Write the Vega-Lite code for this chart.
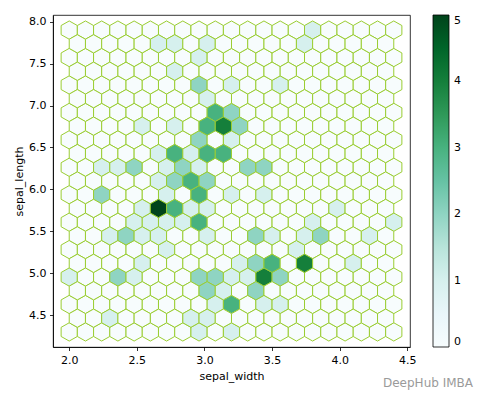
{
"$schema": "https://vega.github.io/schema/vega-lite/v6.json",
"width": 357, "height": 332,
"autosize": "none",
"padding": {"left": 53, "top": 15, "right": 78, "bottom": 49},
"background": "white",
"config": {
  "view": {"stroke": "#000", "strokeWidth": 0.8},
  "font": "DejaVu Sans",
  "axis": {"grid": false, "domainColor": "#000", "domainWidth": 0.8, "tickColor": "#000", "tickWidth": 0.8, "tickSize": 3.5, "labelPadding": 3.5, "labelFontSize": 11, "labelColor": "#000", "labelFont": "DejaVu Sans", "titleFont": "DejaVu Sans", "titleFontSize": 11, "titleFontWeight": "normal", "titleColor": "#000"},
  "legend": {"gradientVerticalMaxLength": 400}
},
"datasets": {"hex": [
{"x":2,"y":4.3,"c":0},{"x":2.12,"y":4.3,"c":0},{"x":2.24,"y":4.3,"c":0},{"x":2.36,"y":4.3,"c":0},{"x":2.48,"y":4.3,"c":0},{"x":2.6,"y":4.3,"c":0},{"x":2.72,"y":4.3,"c":0},{"x":2.84,"y":4.3,"c":0},{"x":2.96,"y":4.3,"c":1},{"x":3.08,"y":4.3,"c":0},{"x":3.2,"y":4.3,"c":1},{"x":3.32,"y":4.3,"c":0},{"x":3.44,"y":4.3,"c":0},{"x":3.56,"y":4.3,"c":0},{"x":3.68,"y":4.3,"c":0},{"x":3.8,"y":4.3,"c":0},{"x":3.92,"y":4.3,"c":0},{"x":4.04,"y":4.3,"c":0},{"x":4.16,"y":4.3,"c":0},{"x":4.28,"y":4.3,"c":0},{"x":4.4,"y":4.3,"c":0},
{"x":2,"y":4.6273,"c":0},{"x":2.12,"y":4.6273,"c":0},{"x":2.24,"y":4.6273,"c":0},{"x":2.36,"y":4.6273,"c":0},{"x":2.48,"y":4.6273,"c":0},{"x":2.6,"y":4.6273,"c":0},{"x":2.72,"y":4.6273,"c":0},{"x":2.84,"y":4.6273,"c":0},{"x":2.96,"y":4.6273,"c":0},{"x":3.08,"y":4.6273,"c":1},{"x":3.2,"y":4.6273,"c":3},{"x":3.32,"y":4.6273,"c":0},{"x":3.44,"y":4.6273,"c":1},{"x":3.56,"y":4.6273,"c":1},{"x":3.68,"y":4.6273,"c":0},{"x":3.8,"y":4.6273,"c":0},{"x":3.92,"y":4.6273,"c":0},{"x":4.04,"y":4.6273,"c":0},{"x":4.16,"y":4.6273,"c":0},{"x":4.28,"y":4.6273,"c":0},{"x":4.4,"y":4.6273,"c":0},
{"x":2,"y":4.9545,"c":1},{"x":2.12,"y":4.9545,"c":0},{"x":2.24,"y":4.9545,"c":0},{"x":2.36,"y":4.9545,"c":2},{"x":2.48,"y":4.9545,"c":1},{"x":2.6,"y":4.9545,"c":0},{"x":2.72,"y":4.9545,"c":0},{"x":2.84,"y":4.9545,"c":0},{"x":2.96,"y":4.9545,"c":2},{"x":3.08,"y":4.9545,"c":2},{"x":3.2,"y":4.9545,"c":1},{"x":3.32,"y":4.9545,"c":1},{"x":3.44,"y":4.9545,"c":4},{"x":3.56,"y":4.9545,"c":2},{"x":3.68,"y":4.9545,"c":0},{"x":3.8,"y":4.9545,"c":0},{"x":3.92,"y":4.9545,"c":0},{"x":4.04,"y":4.9545,"c":0},{"x":4.16,"y":4.9545,"c":0},{"x":4.28,"y":4.9545,"c":0},{"x":4.4,"y":4.9545,"c":0},
{"x":2,"y":5.2818,"c":0},{"x":2.12,"y":5.2818,"c":0},{"x":2.24,"y":5.2818,"c":0},{"x":2.36,"y":5.2818,"c":0},{"x":2.48,"y":5.2818,"c":0},{"x":2.6,"y":5.2818,"c":0},{"x":2.72,"y":5.2818,"c":1},{"x":2.84,"y":5.2818,"c":0},{"x":2.96,"y":5.2818,"c":0},{"x":3.08,"y":5.2818,"c":0},{"x":3.2,"y":5.2818,"c":0},{"x":3.32,"y":5.2818,"c":0},{"x":3.44,"y":5.2818,"c":0},{"x":3.56,"y":5.2818,"c":0},{"x":3.68,"y":5.2818,"c":1},{"x":3.8,"y":5.2818,"c":0},{"x":3.92,"y":5.2818,"c":0},{"x":4.04,"y":5.2818,"c":0},{"x":4.16,"y":5.2818,"c":0},{"x":4.28,"y":5.2818,"c":0},{"x":4.4,"y":5.2818,"c":0},
{"x":2,"y":5.6091,"c":0},{"x":2.12,"y":5.6091,"c":0},{"x":2.24,"y":5.6091,"c":0},{"x":2.36,"y":5.6091,"c":0},{"x":2.48,"y":5.6091,"c":1},{"x":2.6,"y":5.6091,"c":1},{"x":2.72,"y":5.6091,"c":1},{"x":2.84,"y":5.6091,"c":1},{"x":2.96,"y":5.6091,"c":3},{"x":3.08,"y":5.6091,"c":0},{"x":3.2,"y":5.6091,"c":0},{"x":3.32,"y":5.6091,"c":0},{"x":3.44,"y":5.6091,"c":0},{"x":3.56,"y":5.6091,"c":0},{"x":3.68,"y":5.6091,"c":0},{"x":3.8,"y":5.6091,"c":1},{"x":3.92,"y":5.6091,"c":0},{"x":4.04,"y":5.6091,"c":0},{"x":4.16,"y":5.6091,"c":0},{"x":4.28,"y":5.6091,"c":0},{"x":4.4,"y":5.6091,"c":1},
{"x":2,"y":5.9364,"c":0},{"x":2.12,"y":5.9364,"c":0},{"x":2.24,"y":5.9364,"c":2},{"x":2.36,"y":5.9364,"c":0},{"x":2.48,"y":5.9364,"c":0},{"x":2.6,"y":5.9364,"c":0},{"x":2.72,"y":5.9364,"c":1},{"x":2.84,"y":5.9364,"c":0},{"x":2.96,"y":5.9364,"c":3},{"x":3.08,"y":5.9364,"c":0},{"x":3.2,"y":5.9364,"c":1},{"x":3.32,"y":5.9364,"c":0},{"x":3.44,"y":5.9364,"c":1},{"x":3.56,"y":5.9364,"c":0},{"x":3.68,"y":5.9364,"c":0},{"x":3.8,"y":5.9364,"c":0},{"x":3.92,"y":5.9364,"c":0},{"x":4.04,"y":5.9364,"c":0},{"x":4.16,"y":5.9364,"c":0},{"x":4.28,"y":5.9364,"c":0},{"x":4.4,"y":5.9364,"c":0},
{"x":2,"y":6.2636,"c":0},{"x":2.12,"y":6.2636,"c":0},{"x":2.24,"y":6.2636,"c":1},{"x":2.36,"y":6.2636,"c":1},{"x":2.48,"y":6.2636,"c":2},{"x":2.6,"y":6.2636,"c":0},{"x":2.72,"y":6.2636,"c":1},{"x":2.84,"y":6.2636,"c":2},{"x":2.96,"y":6.2636,"c":1},{"x":3.08,"y":6.2636,"c":0},{"x":3.2,"y":6.2636,"c":0},{"x":3.32,"y":6.2636,"c":2},{"x":3.44,"y":6.2636,"c":2},{"x":3.56,"y":6.2636,"c":0},{"x":3.68,"y":6.2636,"c":0},{"x":3.8,"y":6.2636,"c":0},{"x":3.92,"y":6.2636,"c":0},{"x":4.04,"y":6.2636,"c":0},{"x":4.16,"y":6.2636,"c":0},{"x":4.28,"y":6.2636,"c":0},{"x":4.4,"y":6.2636,"c":0},
{"x":2,"y":6.5909,"c":0},{"x":2.12,"y":6.5909,"c":0},{"x":2.24,"y":6.5909,"c":0},{"x":2.36,"y":6.5909,"c":0},{"x":2.48,"y":6.5909,"c":0},{"x":2.6,"y":6.5909,"c":0},{"x":2.72,"y":6.5909,"c":0},{"x":2.84,"y":6.5909,"c":0},{"x":2.96,"y":6.5909,"c":2},{"x":3.08,"y":6.5909,"c":0},{"x":3.2,"y":6.5909,"c":1},{"x":3.32,"y":6.5909,"c":0},{"x":3.44,"y":6.5909,"c":0},{"x":3.56,"y":6.5909,"c":0},{"x":3.68,"y":6.5909,"c":0},{"x":3.8,"y":6.5909,"c":0},{"x":3.92,"y":6.5909,"c":0},{"x":4.04,"y":6.5909,"c":0},{"x":4.16,"y":6.5909,"c":0},{"x":4.28,"y":6.5909,"c":0},{"x":4.4,"y":6.5909,"c":0},
{"x":2,"y":6.9182,"c":0},{"x":2.12,"y":6.9182,"c":0},{"x":2.24,"y":6.9182,"c":0},{"x":2.36,"y":6.9182,"c":0},{"x":2.48,"y":6.9182,"c":0},{"x":2.6,"y":6.9182,"c":0},{"x":2.72,"y":6.9182,"c":0},{"x":2.84,"y":6.9182,"c":0},{"x":2.96,"y":6.9182,"c":0},{"x":3.08,"y":6.9182,"c":3},{"x":3.2,"y":6.9182,"c":2},{"x":3.32,"y":6.9182,"c":0},{"x":3.44,"y":6.9182,"c":0},{"x":3.56,"y":6.9182,"c":0},{"x":3.68,"y":6.9182,"c":0},{"x":3.8,"y":6.9182,"c":0},{"x":3.92,"y":6.9182,"c":0},{"x":4.04,"y":6.9182,"c":0},{"x":4.16,"y":6.9182,"c":0},{"x":4.28,"y":6.9182,"c":0},{"x":4.4,"y":6.9182,"c":0},
{"x":2,"y":7.2455,"c":0},{"x":2.12,"y":7.2455,"c":0},{"x":2.24,"y":7.2455,"c":0},{"x":2.36,"y":7.2455,"c":0},{"x":2.48,"y":7.2455,"c":0},{"x":2.6,"y":7.2455,"c":0},{"x":2.72,"y":7.2455,"c":0},{"x":2.84,"y":7.2455,"c":0},{"x":2.96,"y":7.2455,"c":2},{"x":3.08,"y":7.2455,"c":0},{"x":3.2,"y":7.2455,"c":1},{"x":3.32,"y":7.2455,"c":0},{"x":3.44,"y":7.2455,"c":0},{"x":3.56,"y":7.2455,"c":1},{"x":3.68,"y":7.2455,"c":0},{"x":3.8,"y":7.2455,"c":0},{"x":3.92,"y":7.2455,"c":0},{"x":4.04,"y":7.2455,"c":0},{"x":4.16,"y":7.2455,"c":0},{"x":4.28,"y":7.2455,"c":0},{"x":4.4,"y":7.2455,"c":0},
{"x":2,"y":7.5727,"c":0},{"x":2.12,"y":7.5727,"c":0},{"x":2.24,"y":7.5727,"c":0},{"x":2.36,"y":7.5727,"c":0},{"x":2.48,"y":7.5727,"c":0},{"x":2.6,"y":7.5727,"c":0},{"x":2.72,"y":7.5727,"c":0},{"x":2.84,"y":7.5727,"c":0},{"x":2.96,"y":7.5727,"c":1},{"x":3.08,"y":7.5727,"c":0},{"x":3.2,"y":7.5727,"c":0},{"x":3.32,"y":7.5727,"c":0},{"x":3.44,"y":7.5727,"c":0},{"x":3.56,"y":7.5727,"c":0},{"x":3.68,"y":7.5727,"c":0},{"x":3.8,"y":7.5727,"c":0},{"x":3.92,"y":7.5727,"c":0},{"x":4.04,"y":7.5727,"c":0},{"x":4.16,"y":7.5727,"c":0},{"x":4.28,"y":7.5727,"c":0},{"x":4.4,"y":7.5727,"c":0},
{"x":2,"y":7.9,"c":0},{"x":2.12,"y":7.9,"c":0},{"x":2.24,"y":7.9,"c":0},{"x":2.36,"y":7.9,"c":0},{"x":2.48,"y":7.9,"c":0},{"x":2.6,"y":7.9,"c":0},{"x":2.72,"y":7.9,"c":0},{"x":2.84,"y":7.9,"c":0},{"x":2.96,"y":7.9,"c":0},{"x":3.08,"y":7.9,"c":0},{"x":3.2,"y":7.9,"c":0},{"x":3.32,"y":7.9,"c":0},{"x":3.44,"y":7.9,"c":0},{"x":3.56,"y":7.9,"c":0},{"x":3.68,"y":7.9,"c":0},{"x":3.8,"y":7.9,"c":1},{"x":3.92,"y":7.9,"c":0},{"x":4.04,"y":7.9,"c":0},{"x":4.16,"y":7.9,"c":0},{"x":4.28,"y":7.9,"c":0},{"x":4.4,"y":7.9,"c":0},
{"x":2.06,"y":4.4636,"c":0},{"x":2.18,"y":4.4636,"c":0},{"x":2.3,"y":4.4636,"c":1},{"x":2.42,"y":4.4636,"c":0},{"x":2.54,"y":4.4636,"c":0},{"x":2.66,"y":4.4636,"c":0},{"x":2.78,"y":4.4636,"c":0},{"x":2.9,"y":4.4636,"c":1},{"x":3.02,"y":4.4636,"c":1},{"x":3.14,"y":4.4636,"c":0},{"x":3.26,"y":4.4636,"c":0},{"x":3.38,"y":4.4636,"c":0},{"x":3.5,"y":4.4636,"c":0},{"x":3.62,"y":4.4636,"c":0},{"x":3.74,"y":4.4636,"c":0},{"x":3.86,"y":4.4636,"c":0},{"x":3.98,"y":4.4636,"c":0},{"x":4.1,"y":4.4636,"c":0},{"x":4.22,"y":4.4636,"c":0},{"x":4.34,"y":4.4636,"c":0},
{"x":2.06,"y":4.7909,"c":0},{"x":2.18,"y":4.7909,"c":0},{"x":2.3,"y":4.7909,"c":0},{"x":2.42,"y":4.7909,"c":0},{"x":2.54,"y":4.7909,"c":0},{"x":2.66,"y":4.7909,"c":0},{"x":2.78,"y":4.7909,"c":0},{"x":2.9,"y":4.7909,"c":0},{"x":3.02,"y":4.7909,"c":2},{"x":3.14,"y":4.7909,"c":1},{"x":3.26,"y":4.7909,"c":0},{"x":3.38,"y":4.7909,"c":2},{"x":3.5,"y":4.7909,"c":0},{"x":3.62,"y":4.7909,"c":0},{"x":3.74,"y":4.7909,"c":0},{"x":3.86,"y":4.7909,"c":0},{"x":3.98,"y":4.7909,"c":0},{"x":4.1,"y":4.7909,"c":0},{"x":4.22,"y":4.7909,"c":0},{"x":4.34,"y":4.7909,"c":0},
{"x":2.06,"y":5.1182,"c":0},{"x":2.18,"y":5.1182,"c":0},{"x":2.3,"y":5.1182,"c":0},{"x":2.42,"y":5.1182,"c":0},{"x":2.54,"y":5.1182,"c":1},{"x":2.66,"y":5.1182,"c":0},{"x":2.78,"y":5.1182,"c":0},{"x":2.9,"y":5.1182,"c":0},{"x":3.02,"y":5.1182,"c":0},{"x":3.14,"y":5.1182,"c":0},{"x":3.26,"y":5.1182,"c":1},{"x":3.38,"y":5.1182,"c":2},{"x":3.5,"y":5.1182,"c":3},{"x":3.62,"y":5.1182,"c":0},{"x":3.74,"y":5.1182,"c":4},{"x":3.86,"y":5.1182,"c":0},{"x":3.98,"y":5.1182,"c":0},{"x":4.1,"y":5.1182,"c":1},{"x":4.22,"y":5.1182,"c":0},{"x":4.34,"y":5.1182,"c":0},
{"x":2.06,"y":5.4455,"c":0},{"x":2.18,"y":5.4455,"c":0},{"x":2.3,"y":5.4455,"c":1},{"x":2.42,"y":5.4455,"c":2},{"x":2.54,"y":5.4455,"c":1},{"x":2.66,"y":5.4455,"c":1},{"x":2.78,"y":5.4455,"c":0},{"x":2.9,"y":5.4455,"c":0},{"x":3.02,"y":5.4455,"c":1},{"x":3.14,"y":5.4455,"c":0},{"x":3.26,"y":5.4455,"c":0},{"x":3.38,"y":5.4455,"c":2},{"x":3.5,"y":5.4455,"c":1},{"x":3.62,"y":5.4455,"c":0},{"x":3.74,"y":5.4455,"c":1},{"x":3.86,"y":5.4455,"c":2},{"x":3.98,"y":5.4455,"c":0},{"x":4.1,"y":5.4455,"c":0},{"x":4.22,"y":5.4455,"c":1},{"x":4.34,"y":5.4455,"c":0},
{"x":2.06,"y":5.7727,"c":0},{"x":2.18,"y":5.7727,"c":0},{"x":2.3,"y":5.7727,"c":0},{"x":2.42,"y":5.7727,"c":0},{"x":2.54,"y":5.7727,"c":1},{"x":2.66,"y":5.7727,"c":5},{"x":2.78,"y":5.7727,"c":3},{"x":2.9,"y":5.7727,"c":1},{"x":3.02,"y":5.7727,"c":1},{"x":3.14,"y":5.7727,"c":0},{"x":3.26,"y":5.7727,"c":0},{"x":3.38,"y":5.7727,"c":0},{"x":3.5,"y":5.7727,"c":0},{"x":3.62,"y":5.7727,"c":0},{"x":3.74,"y":5.7727,"c":0},{"x":3.86,"y":5.7727,"c":0},{"x":3.98,"y":5.7727,"c":1},{"x":4.1,"y":5.7727,"c":0},{"x":4.22,"y":5.7727,"c":0},{"x":4.34,"y":5.7727,"c":0},
{"x":2.06,"y":6.1,"c":0},{"x":2.18,"y":6.1,"c":0},{"x":2.3,"y":6.1,"c":0},{"x":2.42,"y":6.1,"c":0},{"x":2.54,"y":6.1,"c":0},{"x":2.66,"y":6.1,"c":1},{"x":2.78,"y":6.1,"c":2},{"x":2.9,"y":6.1,"c":3},{"x":3.02,"y":6.1,"c":2},{"x":3.14,"y":6.1,"c":0},{"x":3.26,"y":6.1,"c":0},{"x":3.38,"y":6.1,"c":0},{"x":3.5,"y":6.1,"c":0},{"x":3.62,"y":6.1,"c":0},{"x":3.74,"y":6.1,"c":0},{"x":3.86,"y":6.1,"c":0},{"x":3.98,"y":6.1,"c":0},{"x":4.1,"y":6.1,"c":0},{"x":4.22,"y":6.1,"c":0},{"x":4.34,"y":6.1,"c":0},
{"x":2.06,"y":6.4273,"c":0},{"x":2.18,"y":6.4273,"c":0},{"x":2.3,"y":6.4273,"c":0},{"x":2.42,"y":6.4273,"c":0},{"x":2.54,"y":6.4273,"c":0},{"x":2.66,"y":6.4273,"c":1},{"x":2.78,"y":6.4273,"c":3},{"x":2.9,"y":6.4273,"c":1},{"x":3.02,"y":6.4273,"c":3},{"x":3.14,"y":6.4273,"c":3},{"x":3.26,"y":6.4273,"c":0},{"x":3.38,"y":6.4273,"c":0},{"x":3.5,"y":6.4273,"c":0},{"x":3.62,"y":6.4273,"c":0},{"x":3.74,"y":6.4273,"c":0},{"x":3.86,"y":6.4273,"c":0},{"x":3.98,"y":6.4273,"c":0},{"x":4.1,"y":6.4273,"c":0},{"x":4.22,"y":6.4273,"c":0},{"x":4.34,"y":6.4273,"c":0},
{"x":2.06,"y":6.7545,"c":0},{"x":2.18,"y":6.7545,"c":0},{"x":2.3,"y":6.7545,"c":0},{"x":2.42,"y":6.7545,"c":0},{"x":2.54,"y":6.7545,"c":1},{"x":2.66,"y":6.7545,"c":0},{"x":2.78,"y":6.7545,"c":1},{"x":2.9,"y":6.7545,"c":0},{"x":3.02,"y":6.7545,"c":3},{"x":3.14,"y":6.7545,"c":4},{"x":3.26,"y":6.7545,"c":2},{"x":3.38,"y":6.7545,"c":0},{"x":3.5,"y":6.7545,"c":0},{"x":3.62,"y":6.7545,"c":0},{"x":3.74,"y":6.7545,"c":0},{"x":3.86,"y":6.7545,"c":0},{"x":3.98,"y":6.7545,"c":0},{"x":4.1,"y":6.7545,"c":0},{"x":4.22,"y":6.7545,"c":0},{"x":4.34,"y":6.7545,"c":0},
{"x":2.06,"y":7.0818,"c":0},{"x":2.18,"y":7.0818,"c":0},{"x":2.3,"y":7.0818,"c":0},{"x":2.42,"y":7.0818,"c":0},{"x":2.54,"y":7.0818,"c":0},{"x":2.66,"y":7.0818,"c":0},{"x":2.78,"y":7.0818,"c":0},{"x":2.9,"y":7.0818,"c":0},{"x":3.02,"y":7.0818,"c":1},{"x":3.14,"y":7.0818,"c":0},{"x":3.26,"y":7.0818,"c":0},{"x":3.38,"y":7.0818,"c":0},{"x":3.5,"y":7.0818,"c":0},{"x":3.62,"y":7.0818,"c":0},{"x":3.74,"y":7.0818,"c":0},{"x":3.86,"y":7.0818,"c":0},{"x":3.98,"y":7.0818,"c":0},{"x":4.1,"y":7.0818,"c":0},{"x":4.22,"y":7.0818,"c":0},{"x":4.34,"y":7.0818,"c":0},
{"x":2.06,"y":7.4091,"c":0},{"x":2.18,"y":7.4091,"c":0},{"x":2.3,"y":7.4091,"c":0},{"x":2.42,"y":7.4091,"c":0},{"x":2.54,"y":7.4091,"c":0},{"x":2.66,"y":7.4091,"c":0},{"x":2.78,"y":7.4091,"c":1},{"x":2.9,"y":7.4091,"c":0},{"x":3.02,"y":7.4091,"c":0},{"x":3.14,"y":7.4091,"c":0},{"x":3.26,"y":7.4091,"c":0},{"x":3.38,"y":7.4091,"c":0},{"x":3.5,"y":7.4091,"c":0},{"x":3.62,"y":7.4091,"c":0},{"x":3.74,"y":7.4091,"c":0},{"x":3.86,"y":7.4091,"c":0},{"x":3.98,"y":7.4091,"c":0},{"x":4.1,"y":7.4091,"c":0},{"x":4.22,"y":7.4091,"c":0},{"x":4.34,"y":7.4091,"c":0},
{"x":2.06,"y":7.7364,"c":0},{"x":2.18,"y":7.7364,"c":0},{"x":2.3,"y":7.7364,"c":0},{"x":2.42,"y":7.7364,"c":0},{"x":2.54,"y":7.7364,"c":0},{"x":2.66,"y":7.7364,"c":1},{"x":2.78,"y":7.7364,"c":1},{"x":2.9,"y":7.7364,"c":0},{"x":3.02,"y":7.7364,"c":1},{"x":3.14,"y":7.7364,"c":0},{"x":3.26,"y":7.7364,"c":0},{"x":3.38,"y":7.7364,"c":0},{"x":3.5,"y":7.7364,"c":0},{"x":3.62,"y":7.7364,"c":0},{"x":3.74,"y":7.7364,"c":1},{"x":3.86,"y":7.7364,"c":0},{"x":3.98,"y":7.7364,"c":0},{"x":4.1,"y":7.7364,"c":0},{"x":4.22,"y":7.7364,"c":0},{"x":4.34,"y":7.7364,"c":0}
]},
"layer": [
  {
    "data": {"name": "hex"},
    "mark": {"type": "point", "shape": "M0.8872,-0.5L0.8872,0.5L0,1L-0.8872,0.5L-0.8872,-0.5L0,-1Z", "filled": true, "size": 334.6, "stroke": "#9acd32", "strokeWidth": 1, "opacity": 1, "fillOpacity": 1, "strokeOpacity": 1},
    "encoding": {
      "x": {"field": "x", "type": "quantitative", "scale": {"domain": [1.88, 4.52], "nice": false, "zero": false}, "axis": {"values": [2, 2.5, 3, 3.5, 4, 4.5], "format": ".1f", "title": "sepal_width", "titlePadding": 5}},
      "y": {"field": "y", "type": "quantitative", "scale": {"domain": [4.12, 8.08], "nice": false, "zero": false}, "axis": {"values": [4.5, 5, 5.5, 6, 6.5, 7, 7.5, 8], "format": ".1f", "title": "sepal_length", "titlePadding": 4}},
      "fill": {"field": "c", "type": "quantitative", "scale": {"domain": [0, 0.625, 1.25, 1.875, 2.5, 3.125, 3.75, 4.375, 5], "range": ["#f7fcfd", "#e5f5f9", "#ccece6", "#99d8c9", "#66c2a4", "#41ae76", "#238b45", "#006d2c", "#00441b"], "interpolate": "rgb"},
        "legend": {"orient": "none", "legendX": 380, "legendY": 0, "direction": "vertical", "gradientLength": 332, "gradientThickness": 16, "gradientStrokeColor": "#000", "gradientStrokeWidth": 0.8, "values": [0, 1, 2, 3, 4, 5], "format": "d", "title": null, "labelFontSize": 11, "labelColor": "#000", "labelFont": "DejaVu Sans", "labelOffset": 5, "labelBaseline": "middle", "padding": 0}}
    }
  },
  {
    "data": {"values": [{}]},
    "mark": {"type": "text", "text": "DeepHub IMBA", "fontSize": 12, "font": "DejaVu Sans", "color": "#9a9a9a", "align": "right", "baseline": "middle"},
    "encoding": {
      "x": {"datum": 4.986, "type": "quantitative"},
      "y": {"datum": 3.69, "type": "quantitative"}
    }
  }
]
}
